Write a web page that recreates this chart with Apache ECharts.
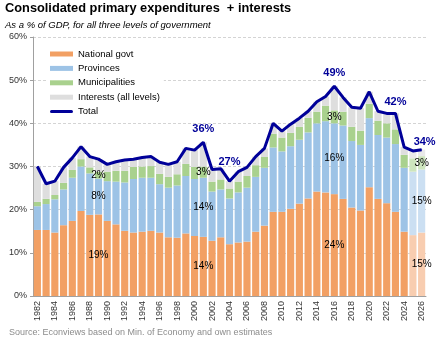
<!DOCTYPE html>
<html><head><meta charset="utf-8">
<script src="https://cdn.jsdelivr.net/npm/echarts@6/dist/echarts.min.js"></script>
<style>html,body{margin:0;padding:0;background:#fff}#c{width:443px;height:340px}</style>
</head><body><div id="c"></div>
<script>
const years = ['1982','1983','1984','1985','1986','1987','1988','1989','1990','1991','1992','1993','1994','1995','1996','1997','1998','1999','2000','2001','2002','2003','2004','2005','2006','2007','2008','2009','2010','2011','2012','2013','2014','2015','2016','2017','2018','2019','2020','2021','2022','2023','2024','2025','2026'];
const national = [15.3,15.3,14.7,16.4,17.4,19.7,18.8,18.9,17.4,16.6,15.1,14.7,14.9,15.1,14.7,13.6,13.5,14.5,13.9,13.7,12.8,13.6,12.0,12.4,12.6,14.9,16.3,19.5,19.5,20.2,21.4,22.6,24.2,24.0,23.6,22.5,20.5,19.8,25.2,22.5,21.5,19.5,14.9,14.1,14.7];
const provinces = [5.5,6.0,7.7,8.3,10.0,10.3,9.6,8.3,9.2,9.9,11.2,12.4,12.5,12.3,11.2,11.5,12.1,13.3,13.2,13.7,11.4,11.1,10.6,11.6,12.5,12.7,13.4,14.9,14.0,14.5,14.8,15.3,15.8,16.5,16.4,17.0,15.4,15.2,16.0,14.8,15.2,15.7,14.8,14.7,14.6];
const municipalities = [1.0,1.2,1.0,1.5,1.8,1.7,1.4,1.6,2.2,2.5,2.7,2.8,2.6,2.7,2.4,2.5,2.6,2.8,2.8,2.6,2.3,2.3,2.3,2.5,2.7,2.7,2.5,3.2,3.2,3.1,3.0,3.4,2.7,3.6,3.0,3.2,3.3,3.3,3.3,3.3,3.3,3.4,3.0,3.1,3.1];
const interests = [8.2,3.5,3.2,3.6,2.8,2.9,2.5,2.9,1.7,2.1,2.5,1.8,2.1,2.2,2.7,2.9,2.9,3.6,3.9,5.6,2.8,2.5,1.7,2.3,2.0,2.0,2.0,2.4,1.5,2.0,2.0,1.5,2.3,2.1,5.6,3.3,4.5,5.2,2.8,2.2,2.3,3.7,1.8,1.7,1.5];
const total = [30.0,26.0,26.6,29.8,32.0,34.6,32.3,31.7,30.5,31.1,31.5,31.7,32.1,32.3,31.0,30.5,31.1,34.2,33.8,35.6,29.3,29.5,26.6,28.8,29.8,32.3,34.2,40.0,38.2,39.8,41.2,42.8,45.0,46.2,48.6,46.0,43.7,43.5,47.3,42.8,42.3,42.3,34.5,33.6,33.9];
const yTicks = [0,10,20,30,40,50,60];
const segmentLabelYears = ['1989','2001','2016','2026'];
const totalLabelYears = ['2001','2004','2016','2023','2026'];
const projectionYears = ['2025','2026'];

const FONT = 'Liberation Sans, Arial, sans-serif';
const totalLabelDist = {'2001':7,'2004':13,'2016':7,'2023':5,'2026':2};

function barSeries(name, arr, color, light, withLabels) {
  return {
    name: name, type: 'bar', stack: 'exp', barWidth: '82%',
    itemStyle: {color: color},
    emphasis: {disabled: true},
    label: {show: false, position: 'inside', color: '#000', fontSize: 10, fontFamily: FONT,
            formatter: p => Math.round(p.value) + '%'},
    data: arr.map((v, i) => {
      const d = {value: v};
      if (projectionYears.includes(years[i])) d.itemStyle = {color: light};
      if (withLabels && segmentLabelYears.includes(years[i])) d.label = {show: true};
      return d;
    })
  };
}

const chart = echarts.init(document.getElementById('c'), null, {renderer: 'canvas'});
chart.setOption({
  animation: false,
  backgroundColor: '#fff',
  textStyle: {fontFamily: FONT},
  graphic: [
    {type: 'text', left: 5, top: 2, style: {text: 'Consolidated primary expenditures  + interests', fontSize: 12.8, fontWeight: 'bold', fontFamily: FONT, fill: '#000'}},
    {type: 'text', left: 5, top: 20, style: {text: 'As a % of GDP, for all three levels of government', fontSize: 9.5, fontStyle: 'italic', fontFamily: FONT, fill: '#000'}},
    {type: 'text', left: 9, top: 328, style: {text: 'Source: Econviews based on Min. of Economy and own estimates', fontSize: 9, fontFamily: FONT, fill: '#8c8c8c'}}
  ],
  legend: {
    orient: 'vertical', left: 46, top: 45, padding: [3, 4, 3, 4],
    backgroundColor: '#fff',
    itemWidth: 23, itemHeight: 5, itemGap: 2.4,
    textStyle: {fontSize: 9.5, fontFamily: FONT, color: '#000', lineHeight: 12},
    data: [
      {name: 'National govt', icon: 'rect'},
      {name: 'Provinces', icon: 'rect'},
      {name: 'Municipalities', icon: 'rect'},
      {name: 'Interests (all levels)', icon: 'rect'},
      {name: 'Total', icon: 'path://M1.5,0 L21.5,0 A1.5,1.5 0 0 1 21.5,3 L1.5,3 A1.5,1.5 0 0 1 1.5,0 Z'}
    ]
  },
  grid: {left: 33, right: 17, top: 37, bottom: 44, containLabel: false},
  xAxis: {
    type: 'category', data: years, boundaryGap: true,
    axisLine: {lineStyle: {color: '#a0a0a0'}},
    axisTick: {alignWithLabel: false, interval: 1, length: 4, lineStyle: {color: '#a0a0a0'}},
    axisLabel: {interval: 1, rotate: 90, fontSize: 9, color: '#333', margin: 5, fontFamily: FONT}
  },
  yAxis: {
    type: 'value', min: yTicks[0], max: yTicks[yTicks.length - 1], interval: 10,
    axisLine: {show: true, lineStyle: {color: '#a0a0a0'}},
    axisTick: {show: true, length: 3, lineStyle: {color: '#a0a0a0'}},
    axisLabel: {formatter: '{value}%', fontSize: 9, color: '#333', margin: 6, fontFamily: FONT},
    splitLine: {lineStyle: {color: '#d4d4d4', type: [3, 2]}}
  },
  series: [
    barSeries('National govt', national, '#F2A064', '#F8CDB0', true),
    barSeries('Provinces', provinces, '#9DC3E6', '#CBDFF2', true),
    barSeries('Municipalities', municipalities, '#A9D18E', '#CDE5BD', true),
    barSeries('Interests (all levels)', interests, '#DEDEDE', '#E9E9E9', false),
    {
      name: 'Total', type: 'line', z: 10,
      symbol: 'circle', symbolSize: 1, showSymbol: true,
      itemStyle: {color: '#000099'},
      lineStyle: {color: '#000099', width: 3},
      emphasis: {disabled: true},
      label: {show: false, position: 'top', color: '#000099', fontSize: 11, fontWeight: 'bold', fontFamily: FONT,
              formatter: p => Math.round(p.value) + '%'},
      data: total.map((v, i) => {
        const d = {value: v};
        if (totalLabelYears.includes(years[i])) {
          d.label = {show: true, distance: totalLabelDist[years[i]]};
          if (years[i] === '2026') d.label.offset = [3, 0];
        }
        return d;
      })
    }
  ]
});
</script></body></html>
